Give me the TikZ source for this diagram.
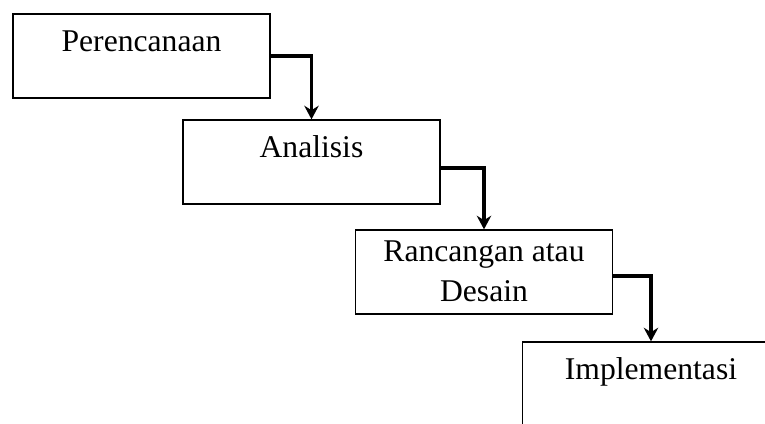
\documentclass[tikz,border=0pt]{standalone}
\usepackage{fontspec}
\setmainfont{Liberation Serif}
\usetikzlibrary{arrows.meta,positioning}

\begin{document}
\begin{tikzpicture}[
  stage/.style={draw, line width=0.9pt, minimum width=6.425cm, minimum height=2.1cm, inner sep=0pt, align=center, font=\fontsize{22.5}{28.5}\selectfont, text height=0.95cm, text depth=1.15cm},
  flow/.style={-{Stealth[length=0.34cm,width=0.36cm]}, line width=2.2pt}]
  \clip (0,0) rectangle (19.125,10.6);

  % Stages
  \node[stage] (plan) at (3.5375,9.2) {Perencanaan};
  \node[stage] (analysis) at (7.7875,6.55) {Analisis};
  \node[stage, text height=1.8cm, text depth=0.3cm] (design) at (12.1,3.8) {Rancangan atau\\Desain};
  \node[stage] (impl) at (16.275,1.0) {Implementasi};

  % Flow
  \draw[flow] (plan.east) -| (analysis.north);
  \draw[flow] ([yshift=-0.15cm]analysis.east) -| (design.north);
  \draw[flow] ([yshift=-0.1cm]design.east) -| (impl.north);
\end{tikzpicture}
\end{document}
